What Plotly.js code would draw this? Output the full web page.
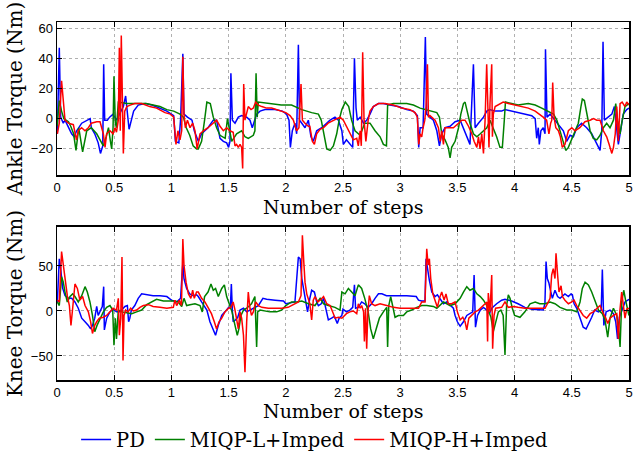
<!DOCTYPE html>
<html><head><meta charset="utf-8">
<script src="https://cdn.plot.ly/plotly-3.0.1.min.js"></script>
<style>html,body{margin:0;padding:0;background:#fff}</style>
</head><body><div id="chart" style="width:633px;height:454px"></div>
<script>
const seriesNames = ["PD", "MIQP-L+Imped", "MIQP-H+Imped"];
const seriesColors = ["#0000ff", "#008000", "#ff0000"];
const xTitle = "Number of steps";
const xTicks = [0, 0.5, 1, 1.5, 2, 2.5, 3, 3.5, 4, 4.5, 5];
const xTickLabels = ["0", "0.5", "1", "1.5", "2", "2.5", "3", "3.5", "4", "4.5", "5"];
const ankleTicks = [-20, 0, 20, 40, 60];
const kneeTicks = [-50, 0, 50];

// [number of steps, torque (Nm)]
const anklePD = [[0.003,-10],[0.02,47],[0.032,1],[0.055,-3],[0.07,-1],[0.1,-6],[0.128,-10],[0.15,-12],[0.172,-8],[0.216,-3],[0.26,-1],[0.29,0],[0.3,-6],[0.33,-10],[0.36,-16],[0.38,-23],[0.4,-18],[0.408,36],[0.417,-1],[0.44,-1],[0.46,1],[0.49,3],[0.52,-1],[0.55,3],[0.58,8],[0.6,15],[0.62,1],[0.63,-7],[0.65,-1],[0.67,5],[0.71,9],[0.77,10],[0.83,9],[0.9,7],[0.96,5],[1.02,2],[1.035,-15],[1.065,-16],[1.08,-1],[1.1,43],[1.11,3],[1.14,1],[1.18,-1],[1.2,-8],[1.235,-15],[1.264,-10],[1.32,-6],[1.366,-1],[1.395,-1],[1.425,-13],[1.454,-15],[1.483,-16],[1.5,-19],[1.512,-15],[1.52,30],[1.533,-1],[1.556,-3],[1.585,1],[1.614,2],[1.658,1],[1.687,-1],[1.707,-6],[1.725,-1],[1.745,3],[1.775,5],[1.818,6],[1.906,6],[1.97,5],[2.007,3],[2.028,-1],[2.04,-19],[2.057,-8],[2.08,-3],[2.095,-10],[2.11,49],[2.12,-1],[2.14,-3],[2.168,-6],[2.197,-1],[2.22,-12],[2.24,-15],[2.27,-8],[2.314,-6],[2.357,-3],[2.387,-1],[2.43,1],[2.46,-1],[2.49,-8],[2.503,-17],[2.53,-14],[2.56,-17],[2.585,-19],[2.6,40],[2.614,7],[2.625,-1],[2.65,1],[2.68,-3],[2.707,-1],[2.736,3],[2.765,8],[2.81,10],[2.853,10],[2.91,9],[2.984,8],[3.057,6],[3.115,5],[3.15,2],[3.162,-19],[3.174,-6],[3.2,-6],[3.22,54],[3.232,3],[3.26,1],[3.29,-1],[3.32,-8],[3.343,-18],[3.363,-10],[3.392,-6],[3.436,-5],[3.48,-2],[3.524,-1],[3.553,-6],[3.582,-12],[3.61,-17],[3.64,36],[3.655,-6],[3.684,-3],[3.728,1],[3.757,5],[3.78,6],[3.83,5],[3.887,5],[3.916,6],[3.974,5],[4.03,4],[4.09,3],[4.15,2],[4.18,0],[4.193,-13],[4.207,-6],[4.216,-17],[4.23,-8],[4.25,-6],[4.266,-10],[4.27,46],[4.283,1],[4.31,3],[4.353,-1],[4.397,-5],[4.426,-8],[4.455,-15],[4.485,-11],[4.514,-12],[4.543,-6],[4.586,-3],[4.63,-6],[4.674,-10],[4.718,-17],[4.747,-21],[4.762,-8],[4.773,51],[4.785,-1],[4.82,1],[4.85,3],[4.872,8],[4.893,-8],[4.907,-17],[4.922,-10],[4.95,3],[4.98,6],[5.0,7]];

const ankleL = [[0,-5],[0.02,12],[0.04,5],[0.06,0],[0.1,-2],[0.12,-5],[0.145,-10],[0.166,-21],[0.19,-6],[0.224,-22],[0.26,-8],[0.3,-6],[0.347,-10],[0.376,-14],[0.405,-18],[0.43,-12],[0.45,-6],[0.465,-14],[0.478,-20],[0.49,-6],[0.498,28],[0.51,-3],[0.52,-6],[0.536,11],[0.61,10],[0.7,10],[0.78,10],[0.84,9],[0.9,8],[0.96,6],[1.02,5],[1.075,3],[1.105,1],[1.13,-6],[1.16,-11],[1.19,-18],[1.22,-20],[1.235,-20],[1.264,-15],[1.29,-1],[1.31,11],[1.34,10],[1.366,1],[1.395,-6],[1.425,-11],[1.47,-13],[1.49,0],[1.51,-8],[1.527,-15],[1.57,-10],[1.614,-8],[1.643,-12],[1.672,-13],[1.716,-11],[1.73,-8],[1.74,30],[1.75,1],[1.76,11],[1.847,10],[1.96,9],[2.05,9],[2.14,6],[2.226,4],[2.285,3],[2.31,-1],[2.33,-10],[2.358,-20],[2.387,-21],[2.416,-18],[2.445,-10],[2.466,-1],[2.49,6],[2.52,11],[2.55,8],[2.575,-1],[2.605,-8],[2.65,-11],[2.69,-3],[2.736,-3],[2.78,-8],[2.824,-12],[2.853,-17],[2.88,-18],[2.89,9],[2.94,10],[3.057,10],[3.115,9],[3.174,7],[3.26,5],[3.32,4],[3.343,1],[3.363,-10],[3.392,-14],[3.42,-19],[3.436,-26],[3.45,-19],[3.48,-15],[3.51,-6],[3.53,3],[3.553,10],[3.567,11],[3.585,5],[3.61,-3],[3.64,-10],[3.67,-12],[3.7,-10],[3.728,-8],[3.757,-6],[3.785,-1],[3.814,-6],[3.843,-12],[3.872,-19],[3.893,-19],[3.91,-1],[3.92,11],[3.974,10],[4.03,9],[4.12,10],[4.18,9],[4.237,7],[4.295,5],[4.34,3],[4.37,-1],[4.397,-8],[4.426,-17],[4.447,-21],[4.47,-19],[4.5,-13],[4.53,-8],[4.557,-3],[4.58,8],[4.592,13],[4.61,12],[4.63,3],[4.66,-8],[4.688,-13],[4.718,-14],[4.747,-11],[4.776,-6],[4.805,-3],[4.834,-6],[4.864,-1],[4.884,10],[4.9,-1],[4.922,-10],[4.936,-3],[4.965,8],[5.0,10]];

const ankleH = [[0.003,-10],[0.02,-3],[0.04,25],[0.055,10],[0.07,-1],[0.1,-3],[0.143,-4],[0.17,-14],[0.186,-8],[0.215,-6],[0.245,-8],[0.274,-6],[0.3,-3],[0.347,-2],[0.376,-2],[0.405,-10],[0.42,-19],[0.434,-10],[0.463,-8],[0.49,-10],[0.507,-6],[0.52,-9],[0.536,-1],[0.545,47],[0.553,-8],[0.562,55],[0.571,5],[0.58,-23],[0.592,5],[0.61,8],[0.64,9],[0.68,10],[0.74,10],[0.81,8],[0.87,7],[0.944,4],[0.99,3],[1.02,1],[1.04,-17],[1.057,-8],[1.075,-14],[1.09,-8],[1.1,41],[1.11,3],[1.122,-6],[1.14,-1],[1.163,-6],[1.186,-3],[1.206,-8],[1.225,-20],[1.25,-10],[1.28,-8],[1.32,-6],[1.366,-3],[1.395,-1],[1.425,-5],[1.454,-8],[1.483,-6],[1.512,-8],[1.54,-9],[1.556,-18],[1.57,-17],[1.585,-19],[1.6,-17],[1.614,-19],[1.623,-33],[1.632,23],[1.643,-1],[1.658,4],[1.672,8],[1.696,6],[1.716,7],[1.737,11],[1.76,9],[1.79,8],[1.833,7],[1.876,7],[1.92,6],[1.964,5],[2.0,4],[2.037,2],[2.066,-1],[2.095,-8],[2.115,-6],[2.133,23],[2.145,-1],[2.168,-3],[2.197,-5],[2.21,-5],[2.232,-15],[2.25,-17],[2.27,-10],[2.3,-7],[2.33,-6],[2.37,-3],[2.43,-1],[2.474,1],[2.503,-1],[2.53,-5],[2.56,-10],[2.59,-14],[2.62,-13],[2.634,-18],[2.65,-8],[2.66,-18],[2.672,44],[2.684,-1],[2.7,-15],[2.72,-1],[2.736,5],[2.765,8],[2.81,10],[2.868,10],[2.94,9],[3.013,7],[3.086,6],[3.13,4],[3.15,1],[3.162,-17],[3.174,-10],[3.188,-12],[3.2,-6],[3.215,-1],[3.226,8],[3.238,36],[3.247,1],[3.26,2],[3.305,-1],[3.334,-6],[3.35,-15],[3.363,-8],[3.378,-17],[3.392,-6],[3.42,-6],[3.465,-6],[3.51,-3],[3.538,-1],[3.567,-1],[3.597,-5],[3.626,-10],[3.646,-15],[3.67,-19],[3.684,-12],[3.698,-20],[3.713,-10],[3.728,-23],[3.742,-1],[3.756,36],[3.766,10],[3.776,-19],[3.785,10],[3.8,36],[3.806,-12],[3.814,3],[3.83,8],[3.858,9],[3.9,11],[3.945,10],[4.0,9],[4.06,8],[4.12,7],[4.18,5],[4.22,3],[4.25,1],[4.28,-1],[4.3,-10],[4.315,-3],[4.325,-1],[4.333,24],[4.345,1],[4.36,-6],[4.383,-8],[4.4,-12],[4.417,-19],[4.44,-17],[4.47,-8],[4.5,-6],[4.528,-8],[4.57,-6],[4.615,-2],[4.66,-1],[4.69,0],[4.718,-1],[4.747,-1],[4.776,-8],[4.805,-12],[4.826,-17],[4.85,-23],[4.864,-19],[4.88,-10],[4.893,8],[4.907,-15],[4.922,10],[4.94,11],[4.965,8],[4.98,11],[5.0,9]];

const kneePD = [[0.003,10],[0.02,58],[0.032,47],[0.05,25],[0.07,17],[0.1,14],[0.128,14],[0.157,10],[0.186,3],[0.216,-8],[0.245,-12],[0.274,-16],[0.294,-20],[0.31,-16],[0.33,-8],[0.347,5],[0.36,-5],[0.376,-1],[0.396,5],[0.408,27],[0.414,-21],[0.434,-8],[0.463,-1],[0.49,2],[0.52,-1],[0.55,-1],[0.594,5],[0.615,6],[0.626,-12],[0.637,-8],[0.65,1],[0.68,6],[0.71,14],[0.74,19],[0.78,18],[0.84,17],[0.9,17],[0.96,16],[1.0,12],[1.046,10],[1.08,14],[1.1,53],[1.11,36],[1.133,25],[1.16,19],[1.19,17],[1.22,18],[1.235,16],[1.264,10],[1.31,1],[1.337,-12],[1.366,-21],[1.386,-27],[1.41,-16],[1.44,-5],[1.468,-1],[1.5,4],[1.515,3],[1.524,30],[1.533,0],[1.54,-12],[1.56,-10],[1.58,-7],[1.6,1],[1.63,3],[1.658,-1],[1.687,1],[1.716,3],[1.76,6],[1.8,14],[1.833,13],[1.906,12],[1.98,11],[2.0,8],[2.037,9],[2.08,10],[2.11,60],[2.125,58],[2.14,36],[2.155,25],[2.168,17],[2.19,-1],[2.21,14],[2.226,23],[2.25,21],[2.27,10],[2.285,6],[2.31,8],[2.33,14],[2.358,-1],[2.372,-10],[2.4,-8],[2.425,-6],[2.45,-14],[2.466,-8],[2.49,-5],[2.5,2],[2.53,-1],[2.56,1],[2.585,4],[2.6,29],[2.61,3],[2.634,4],[2.663,10],[2.69,8],[2.72,4],[2.75,8],[2.78,14],[2.81,19],[2.84,19],[2.88,17],[2.97,17],[3.057,17],[3.14,16],[3.16,12],[3.188,11],[3.217,11],[3.226,58],[3.238,47],[3.255,34],[3.276,21],[3.305,16],[3.325,18],[3.348,14],[3.378,8],[3.407,10],[3.436,6],[3.465,3],[3.48,-5],[3.5,-12],[3.524,-17],[3.553,-12],[3.582,-5],[3.61,-3],[3.634,-1],[3.646,40],[3.658,-18],[3.676,-5],[3.7,1],[3.728,4],[3.757,1],[3.78,-3],[3.8,3],[3.843,8],[3.887,12],[3.916,13],[3.974,11],[4.03,8],[4.09,4],[4.15,2],[4.207,1],[4.25,1],[4.265,8],[4.275,55],[4.286,36],[4.3,31],[4.315,22],[4.33,14],[4.353,23],[4.376,16],[4.397,14],[4.418,17],[4.44,19],[4.47,16],[4.493,19],[4.505,18],[4.52,8],[4.543,3],[4.572,-8],[4.6,-18],[4.625,-20],[4.65,-14],[4.674,-7],[4.7,1],[4.733,-1],[4.757,1],[4.767,46],[4.78,-16],[4.8,-1],[4.834,1],[4.864,-3],[4.884,-12],[4.9,-31],[4.916,-7],[4.936,1],[4.965,10],[5.0,13]];

const kneeL = [[0.003,10],[0.02,6],[0.04,38],[0.055,32],[0.07,21],[0.09,10],[0.114,16],[0.137,19],[0.157,16],[0.186,10],[0.216,17],[0.245,27],[0.265,21],[0.288,10],[0.31,-5],[0.33,-23],[0.35,-16],[0.376,-8],[0.405,-1],[0.434,4],[0.463,6],[0.487,1],[0.498,-38],[0.51,-8],[0.52,-31],[0.536,1],[0.565,-1],[0.61,-2],[0.653,-3],[0.696,-1],[0.74,1],[0.784,7],[0.83,10],[0.87,13],[0.93,11],[0.99,11],[1.03,11],[1.06,10],[1.09,5],[1.11,14],[1.133,6],[1.163,7],[1.206,8],[1.25,6],[1.27,-1],[1.29,16],[1.32,21],[1.346,30],[1.366,23],[1.386,25],[1.41,16],[1.44,25],[1.463,29],[1.483,16],[1.512,4],[1.53,-1],[1.556,-16],[1.576,-27],[1.59,-20],[1.608,-5],[1.63,1],[1.658,3],[1.7,8],[1.73,16],[1.745,-40],[1.754,-1],[1.775,1],[1.818,0],[1.86,-1],[1.92,-1],[1.964,1],[2.0,6],[2.05,10],[2.095,10],[2.14,11],[2.197,8],[2.255,6],[2.3,14],[2.33,8],[2.372,6],[2.43,4],[2.474,1],[2.49,21],[2.518,19],[2.547,25],[2.576,21],[2.605,17],[2.634,29],[2.663,25],[2.69,14],[2.72,-1],[2.742,-20],[2.765,-31],[2.79,-20],[2.818,-8],[2.853,-1],[2.882,4],[2.89,-40],[2.9,6],[2.917,16],[2.935,6],[2.955,-7],[2.984,-5],[3.028,-5],[3.057,-1],[3.1,1],[3.145,4],[3.188,6],[3.232,6],[3.29,5],[3.32,3],[3.348,6],[3.378,10],[3.407,8],[3.436,6],[3.48,8],[3.524,14],[3.553,21],[3.582,27],[3.61,23],[3.64,25],[3.67,19],[3.7,16],[3.728,12],[3.757,6],[3.775,-1],[3.793,-7],[3.814,-23],[3.834,-12],[3.858,-1],[3.88,1],[3.9,-5],[3.916,-49],[3.93,6],[3.945,18],[3.96,14],[3.98,3],[4.0,-5],[4.047,-7],[4.09,-1],[4.135,8],[4.18,10],[4.22,8],[4.266,8],[4.31,10],[4.353,8],[4.397,4],[4.455,1],[4.5,1],[4.543,-1],[4.572,10],[4.592,25],[4.616,32],[4.645,29],[4.674,21],[4.7,12],[4.733,1],[4.767,-3],[4.79,-10],[4.814,-29],[4.834,-8],[4.864,3],[4.893,-5],[4.907,-16],[4.922,-40],[4.936,10],[4.954,23],[4.97,12],[5.0,-5]];

const kneeH = [[0.003,12],[0.02,10],[0.04,66],[0.055,51],[0.07,32],[0.09,17],[0.108,6],[0.122,-16],[0.137,3],[0.157,30],[0.178,25],[0.2,12],[0.224,16],[0.245,6],[0.274,-1],[0.294,-12],[0.31,-25],[0.33,-16],[0.347,-12],[0.37,-8],[0.405,-7],[0.434,-5],[0.463,-1],[0.49,3],[0.52,1],[0.536,14],[0.545,-27],[0.557,-8],[0.568,60],[0.577,-55],[0.586,-5],[0.6,1],[0.62,-1],[0.644,3],[0.667,0],[0.696,1],[0.725,4],[0.755,6],[0.8,7],[0.84,5],[0.9,4],[0.96,3],[1.017,4],[1.03,12],[1.046,6],[1.07,12],[1.088,6],[1.1,80],[1.11,51],[1.128,32],[1.148,19],[1.17,14],[1.186,23],[1.2,14],[1.22,21],[1.235,21],[1.264,14],[1.293,10],[1.32,4],[1.35,-3],[1.375,-12],[1.395,-20],[1.416,-12],[1.44,-8],[1.468,-1],[1.5,3],[1.52,4],[1.54,10],[1.556,1],[1.57,-12],[1.585,-20],[1.6,-1],[1.614,-8],[1.63,-27],[1.643,-68],[1.658,-12],[1.672,21],[1.687,3],[1.7,-5],[1.716,-1],[1.737,10],[1.76,6],[1.79,4],[1.847,3],[1.906,3],[1.964,3],[2.02,4],[2.08,8],[2.11,10],[2.133,17],[2.145,84],[2.157,55],[2.168,32],[2.183,19],[2.197,14],[2.21,8],[2.226,-10],[2.24,12],[2.255,16],[2.28,10],[2.3,12],[2.33,16],[2.358,8],[2.387,6],[2.416,-3],[2.43,-8],[2.46,-7],[2.49,-8],[2.53,-3],[2.56,-1],[2.59,0],[2.62,-3],[2.634,8],[2.65,3],[2.663,6],[2.68,-1],[2.687,-34],[2.697,3],[2.707,-42],[2.716,-5],[2.73,17],[2.75,8],[2.78,6],[2.824,8],[2.882,6],[2.94,4],[3.0,3],[3.057,3],[3.115,3],[3.16,3],[3.188,10],[3.217,10],[3.232,69],[3.244,51],[3.255,58],[3.267,36],[3.285,19],[3.305,12],[3.325,4],[3.343,14],[3.363,21],[3.384,12],[3.4,19],[3.42,8],[3.45,8],[3.48,10],[3.5,-1],[3.524,-10],[3.547,-7],[3.567,-12],[3.582,-21],[3.6,-8],[3.626,-5],[3.655,-1],[3.684,1],[3.713,4],[3.742,8],[3.757,10],[3.764,-34],[3.77,20],[3.785,-1],[3.8,40],[3.808,-42],[3.82,-5],[3.834,3],[3.887,4],[3.916,10],[3.945,4],[3.99,5],[4.03,4],[4.09,3],[4.15,3],[4.207,3],[4.266,3],[4.295,10],[4.31,14],[4.324,40],[4.338,47],[4.353,36],[4.362,64],[4.374,43],[4.388,21],[4.406,28],[4.418,16],[4.44,12],[4.47,8],[4.5,10],[4.52,12],[4.543,6],[4.572,1],[4.6,-5],[4.63,-8],[4.66,-3],[4.688,-1],[4.718,3],[4.747,6],[4.776,-3],[4.797,-8],[4.814,-14],[4.834,-8],[4.864,-5],[4.893,-3],[4.907,-31],[4.92,0],[4.936,21],[4.95,3],[4.965,-8],[4.98,2],[5.0,3]];

const ankleSeries = [anklePD, ankleL, ankleH];
const kneeSeries = [kneePD, kneeL, kneeH];

const serif = "DejaVu Serif, Liberation Serif, serif";
const sans = "Liberation Sans, Arial, sans-serif";

const traces = [];
ankleSeries.forEach((s, i) => traces.push({
  x: s.map(p => p[0]), y: s.map(p => p[1]), xaxis: 'x', yaxis: 'y',
  type: 'scatter', mode: 'lines', name: seriesNames[i], showlegend: false,
  line: {color: seriesColors[i], width: 1.5}
}));
kneeSeries.forEach((s, i) => traces.push({
  x: s.map(p => p[0]), y: s.map(p => p[1]), xaxis: 'x2', yaxis: 'y2',
  type: 'scatter', mode: 'lines', name: seriesNames[i], showlegend: true,
  line: {color: seriesColors[i], width: 1.5}
}));

function xax(anchor) {
  return {
    anchor: anchor, domain: [0, 1], range: [0, 5], automargin: false,
    tickvals: xTicks, ticktext: xTickLabels,
    showline: true, linecolor: '#000', linewidth: 1.5, mirror: 'ticks',
    ticks: 'inside', ticklen: 5, tickcolor: '#000', tickwidth: 1,
    showgrid: true, gridcolor: '#b0b0b0', griddash: 'dot', gridwidth: 1,
    zeroline: false, tickfont: {family: sans, size: 13, color: '#000'}
  };
}
function yax(anchor, domain, range, ticks, title) {
  return {
    anchor: anchor, domain: domain, range: range, tickvals: ticks, automargin: false,
    showline: true, linecolor: '#000', linewidth: 1.5, mirror: 'ticks',
    ticks: 'inside', ticklen: 5, tickcolor: '#000', tickwidth: 1,
    showgrid: true, gridcolor: '#b0b0b0', griddash: 'dot', gridwidth: 1,
    zeroline: false, tickfont: {family: sans, size: 13, color: '#000'},
    title: {text: title, font: {family: serif, size: 20, color: '#000'}, standoff: 3}
  };
}

const titleFont = {family: serif, size: 19, color: '#000'};
const layout = {
  width: 633, height: 454,
  margin: {l: 57, r: 4, t: 22, b: 74},
  paper_bgcolor: '#fff', plot_bgcolor: '#fff',
  showlegend: true,
  legend: {orientation: 'h', xref: 'container', yref: 'container', x: 0.497, xanchor: 'center',
           y: 0.031, yanchor: 'middle',
           font: {family: serif, size: 19.5, color: '#000'}, itemwidth: 30, bgcolor: 'rgba(0,0,0,0)'},
  xaxis: xax('y'),
  yaxis: yax('x', [0.5726, 1], [-37.3, 64], ankleTicks, 'Ankle Torque (Nm)'),
  xaxis2: xax('y2'),
  yaxis2: yax('x2', [0, 0.4274], [-76.7, 93.3], kneeTicks, 'Knee Torque (Nm)'),
  annotations: [
    {text: xTitle, xref: 'paper', yref: 'paper', x: 0.5, y: 0.482, xanchor: 'center', yanchor: 'middle', showarrow: false, font: titleFont},
    {text: xTitle, xref: 'paper', yref: 'paper', x: 0.5, y: -0.0866, xanchor: 'center', yanchor: 'middle', showarrow: false, font: titleFont}
  ]
};

Plotly.newPlot('chart', traces, layout, {staticPlot: true, displayModeBar: false});
</script>
</body></html>
